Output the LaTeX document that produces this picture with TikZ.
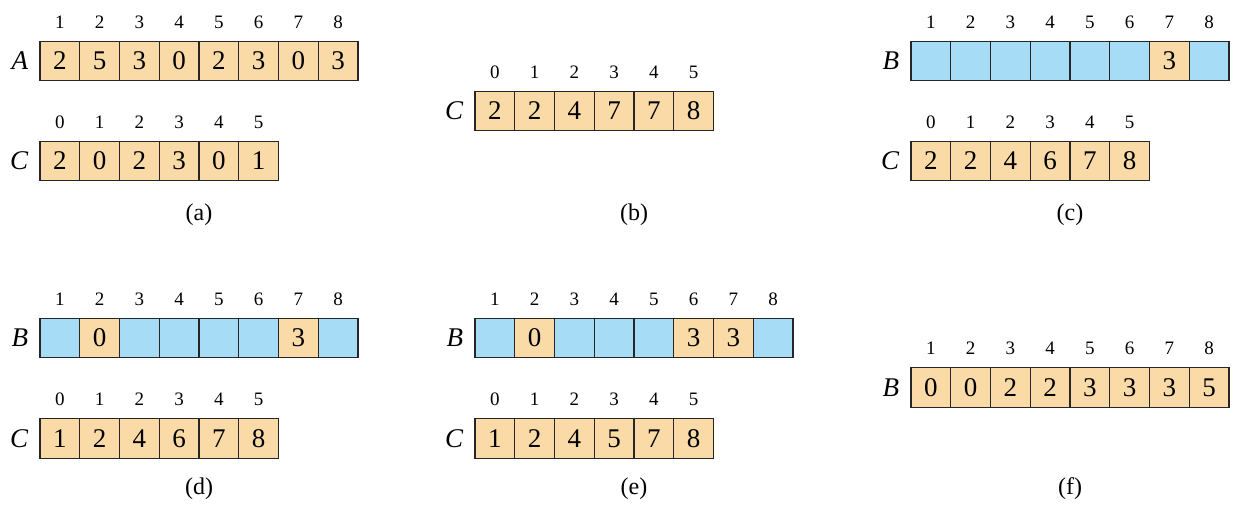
\documentclass[tikz,border=0pt]{standalone}
\usepackage{fontspec}
\setmainfont{Liberation Serif}
\usetikzlibrary{positioning}
\definecolor{cellorange}{RGB}{250,219,167}
\definecolor{cellblue}{RGB}{166,220,245}

\begin{document}
\begin{tikzpicture}[x=1pt, y=-1pt,
    cell/.style={draw=black!85, line width=1.2pt, minimum width=39.75pt, minimum height=39.5pt, inner sep=0pt, font=\fontsize{27}{27}\selectfont},
    co/.style={cell, fill=cellorange},
    cb/.style={cell, fill=cellblue},
    idx/.style={inner sep=0pt, font=\fontsize{19}{19}\selectfont},
    arrname/.style={left=11pt of #1, inner sep=0pt, font=\fontsize{27}{27}\selectfont\itshape},
    sublbl/.style={inner sep=0pt, font=\fontsize{24}{24}\selectfont}]
    \useasboundingbox (0,0) rectangle (1233,511);

    % (a)
    \foreach \v [count=\i] in {2,5,3,0,2,3,0,3} {
      \node[co] (aA\i) at ({40+(\i-0.5)*39.75},61) {\v};
      \node[idx] (aAi\i) at ([yshift=39pt]aA\i.center) {\i};
    }
    \node[arrname=aA1] (aAn) {A};
    \foreach \v [count=\i from 0] in {2,0,2,3,0,1} {
      \node[co] (aC\i) at ({40+(\i+0.5)*39.75},161) {\v};
      \node[idx] (aCi\i) at ([yshift=39pt]aC\i.center) {\i};
    }
    \node[arrname=aC0] (aCn) {C};
    \node[sublbl] (capa) at (199,215) {(a)};

    % (b)
    \foreach \v [count=\i from 0] in {2,2,4,7,7,8} {
      \node[co] (bC\i) at ({475+(\i+0.5)*39.75},111) {\v};
      \node[idx] (bCi\i) at ([yshift=39pt]bC\i.center) {\i};
    }
    \node[arrname=bC0] (bCn) {C};
    \node[sublbl] (capb) at (634,215) {(b)};

    % (c)
    \foreach \v/\s [count=\i] in {{}/cb,{}/cb,{}/cb,{}/cb,{}/cb,{}/cb,3/co,{}/cb} {
      \node[\s] (cB\i) at ({911+(\i-0.5)*39.75},61) {\v};
      \node[idx] (cBi\i) at ([yshift=39pt]cB\i.center) {\i};
    }
    \node[arrname=cB1] (cBn) {B};
    \foreach \v [count=\i from 0] in {2,2,4,6,7,8} {
      \node[co] (cC\i) at ({911+(\i+0.5)*39.75},161) {\v};
      \node[idx] (cCi\i) at ([yshift=39pt]cC\i.center) {\i};
    }
    \node[arrname=cC0] (cCn) {C};
    \node[sublbl] (capc) at (1070,215) {(c)};

    % (d)
    \foreach \v/\s [count=\i] in {{}/cb,0/co,{}/cb,{}/cb,{}/cb,{}/cb,3/co,{}/cb} {
      \node[\s] (dB\i) at ({40+(\i-0.5)*39.75},338) {\v};
      \node[idx] (dBi\i) at ([yshift=39pt]dB\i.center) {\i};
    }
    \node[arrname=dB1] (dBn) {B};
    \foreach \v [count=\i from 0] in {1,2,4,6,7,8} {
      \node[co] (dC\i) at ({40+(\i+0.5)*39.75},438.5) {\v};
      \node[idx] (dCi\i) at ([yshift=39pt]dC\i.center) {\i};
    }
    \node[arrname=dC0] (dCn) {C};
    \node[sublbl] (capd) at (199,489) {(d)};

    % (e)
    \foreach \v/\s [count=\i] in {{}/cb,0/co,{}/cb,{}/cb,{}/cb,3/co,3/co,{}/cb} {
      \node[\s] (eB\i) at ({475+(\i-0.5)*39.75},338) {\v};
      \node[idx] (eBi\i) at ([yshift=39pt]eB\i.center) {\i};
    }
    \node[arrname=eB1] (eBn) {B};
    \foreach \v [count=\i from 0] in {1,2,4,5,7,8} {
      \node[co] (eC\i) at ({475+(\i+0.5)*39.75},438.5) {\v};
      \node[idx] (eCi\i) at ([yshift=39pt]eC\i.center) {\i};
    }
    \node[arrname=eC0] (eCn) {C};
    \node[sublbl] (cape) at (634,489) {(e)};

    % (f)
    \foreach \v [count=\i] in {0,0,2,2,3,3,3,5} {
      \node[co] (fB\i) at ({911+(\i-0.5)*39.75},387.5) {\v};
      \node[idx] (fBi\i) at ([yshift=39pt]fB\i.center) {\i};
    }
    \node[arrname=fB1] (fBn) {B};
    \node[sublbl] (capf) at (1070,489) {(f)};
\end{tikzpicture}
\end{document}
